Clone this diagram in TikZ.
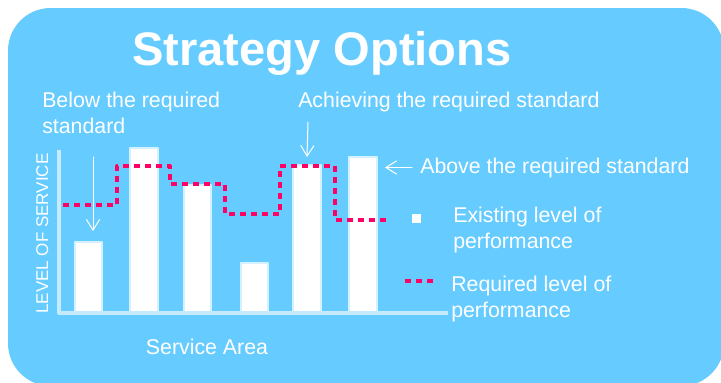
\documentclass[tikz,border=0pt]{standalone}
\usepackage{fontspec}
\setmainfont{Liberation Sans}
\usetikzlibrary{arrows.meta}
\definecolor{skyback}{HTML}{66CCFF}
\definecolor{axisblue}{HTML}{C6EBFC}
\definecolor{barrim}{HTML}{D4F1FE}
\definecolor{reqpink}{HTML}{FF0066}
\begin{document}
\begin{tikzpicture}[x=0.75pt,y=-0.75pt,line join=round,line cap=round]
	\tikzset{every node/.style={text=white,inner sep=0pt},
		txt/.style={font=\fontsize{16}{19.2}\selectfont,align=left},
		bar/.style={fill=white,draw=barrim,line width=1.2pt},
		axisline/.style={draw=axisblue,line width=3pt,line cap=rect},
		reqline/.style={draw=reqpink,line width=3pt,line cap=butt,dash pattern=on 4.5pt off 3.75pt},
		pointer/.style={draw=white,line width=0.75pt,-{Straight Barb[length=8pt,width=10pt]}}}
	\useasboundingbox (0,0) rectangle (721,382);
	\begin{scope}
		\clip (0,0) rectangle (721,382);
		\fill[skyback,rounded corners=32pt] (8,8) rectangle (724,386);
	\end{scope}
	\node[font=\fontsize{35.3}{40}\selectfont\bfseries,anchor=base] (title) at (322,65) {Strategy Options};
	% bars: number / left / right / top
	\foreach \n/\l/\r/\t in {1/75/102/242, 2/130/158/148, 3/184/211/185, 4/241/268/263, 5/293/321/165, 6/349/377/157}{
		\draw[bar] (\l,313) rectangle (\r,\t);
		\coordinate (bar\n) at ({(\l+\r)/2},\t);
	}
	\draw[axisline] (59,152) -- (59,313) -- (446,313);
	\draw[reqline] (63,205) -| (117,166) -| (170,184) -| (225,214) -| (280,166) -| (335,220) -- (390,220);
	\node[font=\fontsize{12.75}{14}\selectfont,rotate=90,anchor=base west] (yaxis) at (48,314) {LEVEL OF SERVICE};
	\node[txt,anchor=base] (xaxis) at (207,354) {Service Area};
	\node[txt,anchor=north west] (below) at (42,92) {Below the required\\standard};
	\node[txt,anchor=base west] (achieve) at (298,107) {Achieving the required standard};
	\node[txt,anchor=base west] (above) at (420,173) {Above the required standard};
	\coordinate (belowstart) at (93,157);
	\coordinate (achievestart) at (308,122);
	\draw[pointer] (belowstart) -- ++(0,74);
	\draw[pointer] (achievestart) -- ([yshift=6pt]bar5);
	\draw[pointer] ([xshift=-6pt]above.west) -- ++(-27,0);
	% legend
	\node[fill=white,minimum size=6.75pt] (existkey) at (416.5,218.5) {};
	\node[txt,anchor=north west] (existing) at (453,207) {Existing level of\\performance};
	\coordinate (reqkey) at (405,281);
	\draw[reqline] (reqkey) -- ++(29,0);
	\node[txt,anchor=north west] (required) at (451,276) {Required level of\\performance};
\end{tikzpicture}
\end{document}
